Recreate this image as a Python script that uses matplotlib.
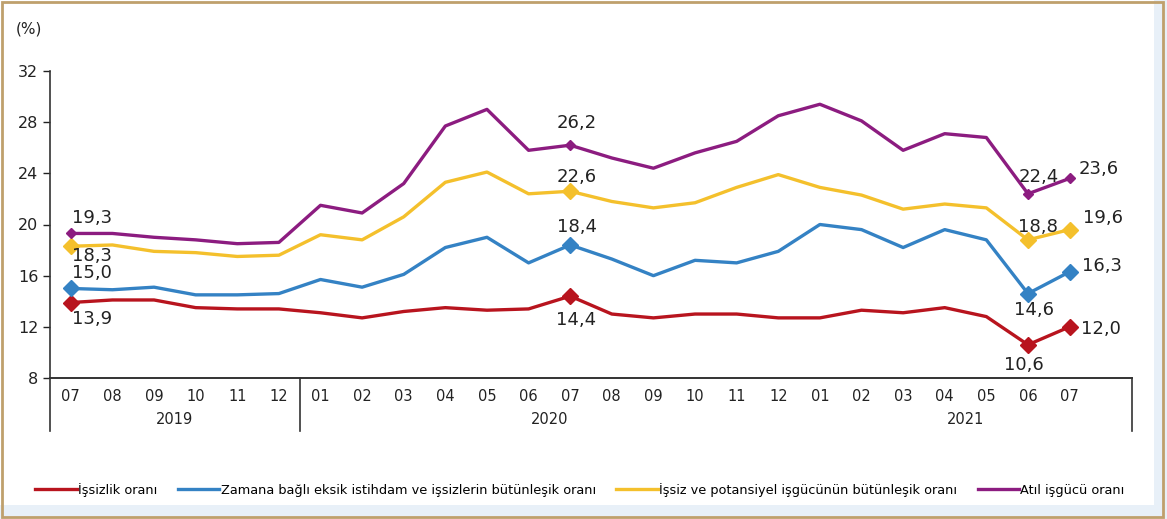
import matplotlib.pyplot as plt
from matplotlib.patches import Rectangle

# months from 2019-07 to 2021-07
months = ["07", "08", "09", "10", "11", "12",
          "01", "02", "03", "04", "05", "06", "07", "08", "09", "10", "11", "12",
          "01", "02", "03", "04", "05", "06", "07"]
years = ["2019", "2020", "2021"]

unemployment = [13.9, 14.1, 14.1, 13.5, 13.4, 13.4,
                13.1, 12.7, 13.2, 13.5, 13.3, 13.4, 14.4, 13.0, 12.7, 13.0, 13.0, 12.7,
                12.7, 13.3, 13.1, 13.5, 12.8, 10.6, 12.0]
time_related = [15.0, 14.9, 15.1, 14.5, 14.5, 14.6,
                15.7, 15.1, 16.1, 18.2, 19.0, 17.0, 18.4, 17.3, 16.0, 17.2, 17.0, 17.9,
                20.0, 19.6, 18.2, 19.6, 18.8, 14.6, 16.3]
potential = [18.3, 18.4, 17.9, 17.8, 17.5, 17.6,
             19.2, 18.8, 20.6, 23.3, 24.1, 22.4, 22.6, 21.8, 21.3, 21.7, 22.9, 23.9,
             22.9, 22.3, 21.2, 21.6, 21.3, 18.8, 19.6]
underutil = [19.3, 19.3, 19.0, 18.8, 18.5, 18.6,
             21.5, 20.9, 23.2, 27.7, 29.0, 25.8, 26.2, 25.2, 24.4, 25.6, 26.5, 28.5,
             29.4, 28.1, 25.8, 27.1, 26.8, 22.4, 23.6]

labels = ["İşsizlik oranı",
          "Zamana bağlı eksik istihdam ve işsizlerin bütünleşik oranı",
          "İşsiz ve potansiyel işgücünün bütünleşik oranı",
          "Atıl işgücü oranı"]
colors = ["#B8141E", "#3482C4", "#F4C02C", "#8C1C80"]

# points that get a marker and value label
marked = [0, 12, 23, 24]


def fmt(v):
    return f"{v:.1f}".replace(".", ",")


def main():
    fig = plt.figure(figsize=(11.67, 5.19), dpi=100)
    fig.patch.set_facecolor("white")

    # light blue band and tan frame around the picture
    fig.patches.append(Rectangle((0, 0), 1, 14 / 519, transform=fig.transFigure,
                                 facecolor="#E8F0F8", edgecolor="none", zorder=0))
    fig.patches.append(Rectangle((1154 / 1167, 0), 13 / 1167, 1, transform=fig.transFigure,
                                 facecolor="#E8F0F8", edgecolor="none", zorder=0))
    fig.patches.append(Rectangle((2 / 1167, 2 / 519), 1161 / 1167, 515 / 519,
                                 transform=fig.transFigure, facecolor="none",
                                 edgecolor="#BFA06C", linewidth=2, zorder=1))

    ax = fig.add_axes([50 / 1167, 1 - 378 / 519, 1082 / 1167, 307 / 519])
    x = list(range(len(months)))
    series = [unemployment, time_related, potential, underutil]

    handles = []
    for vals, c, lab in zip(series, colors, labels):
        h, = ax.plot(x, vals, color=c, linewidth=2.4, label=lab, solid_joinstyle="round")
        handles.append(h)
        ms = 5 if c == "#8C1C80" else 8
        ax.plot([x[i] for i in marked], [vals[i] for i in marked], linestyle="none",
                marker="D", markersize=ms, color=c)

    # value labels: (series, index) -> dx, dy in points
    offsets = {
        (3, 0): (1, 11, "left"), (2, 0): (1, -7, "left"),
        (1, 0): (1, 11, "left"), (0, 0): (1, -12, "left"),
        (3, 12): (5, 16, "center"), (2, 12): (5, 10.5, "center"),
        (1, 12): (5, 13, "center"), (0, 12): (4, -17, "center"),
        (3, 23): (8, 12, "center"), (2, 23): (7, 9.6, "center"),
        (1, 23): (4.5, -12, "center"), (0, 23): (-3, -14.4, "center"),
        (3, 24): (6.5, 6.5, "left"), (2, 24): (9.4, 8.4, "left"),
        (1, 24): (8.6, 4.3, "left"), (0, 24): (8, -1.2, "left"),
    }
    for (s, i), (dx, dy, ha) in offsets.items():
        v = series[s][i]
        ax.annotate(fmt(v), (x[i], v), xytext=(dx, dy), textcoords="offset points",
                    ha=ha, va="center", fontsize=13, color="#222222")

    ax.set_ylim(8, 32)
    ax.set_yticks([8, 12, 16, 20, 24, 28, 32])
    ax.set_xlim(-0.5, len(months) + 0.5)
    ax.set_xticks(x)
    ax.set_xticklabels(months)
    ax.tick_params(axis="x", length=0, pad=8, labelsize=10.5, colors="#222222")
    ax.tick_params(axis="y", length=5, width=1, labelsize=11.5, colors="#222222")
    for sp in ["top", "right"]:
        ax.spines[sp].set_visible(False)
    ax.spines["left"].set_color("#333333")
    ax.spines["bottom"].set_color("#333333")
    ax.spines["left"].set_linewidth(1.2)
    ax.spines["bottom"].set_linewidth(1.2)

    # year group separators and labels below the axis
    trans = ax.get_xaxis_transform()
    drop = -53 / 307
    for xs in [-0.5, 5.5, len(months) + 0.5]:
        ax.plot([xs, xs], [0, drop], transform=trans, color="#333333",
                linewidth=1.2, clip_on=False)
    ax.plot([-0.5, len(months) + 0.5], [0, 0], transform=trans, color="#333333",
            linewidth=1.2, clip_on=False)
    year_centers = [2.5, 11.5, 21.5]
    for yc, yr in zip(year_centers, years):
        ax.text(yc, -42 / 307, yr, transform=trans, ha="center", va="center",
                fontsize=10.5, color="#222222")

    fig.text(29 / 1167, 1 - 29 / 519, "(%)", ha="center", va="center",
             fontsize=11, color="#222222")

    fig.legend(handles=handles, loc="center", bbox_to_anchor=(580 / 1167, 1 - 490 / 519),
               ncol=4, frameon=False, fontsize=9.3, handlelength=3.2, handletextpad=0.1,
               columnspacing=1.6)

    fig.savefig("out.png", dpi=100)


if __name__ == "__main__":
    main()
